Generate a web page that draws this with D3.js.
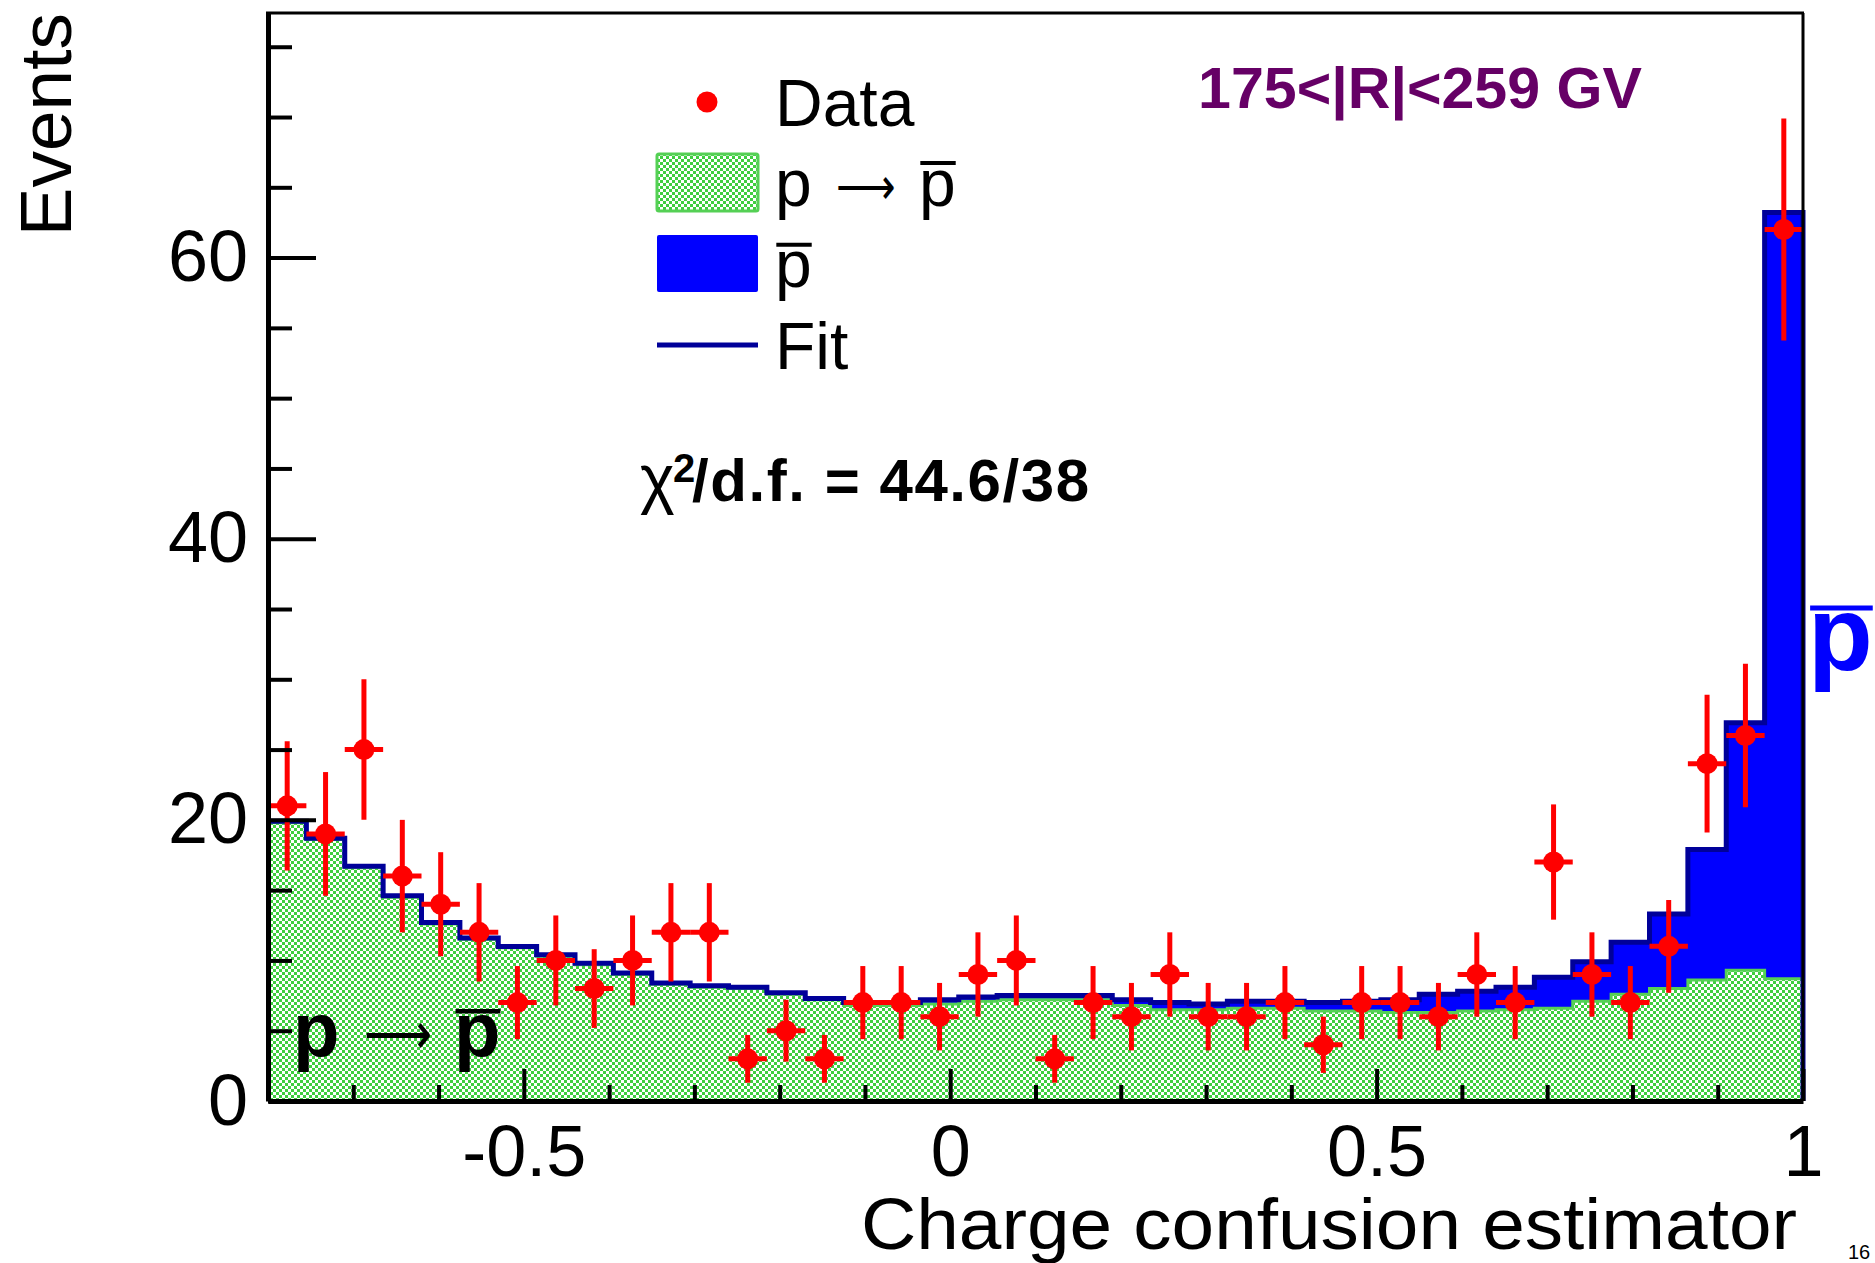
<!DOCTYPE html>
<html>
<head>
<meta charset="utf-8">
<script src="https://d3js.org/d3.v7.min.js"></script>
<style>
body { margin: 0; background: #fff; }
svg text { font-family: "Liberation Sans", Arial, Helvetica, sans-serif; }
</style>
</head>
<body>
<div id="chart"></div>
<script>
var width = 1875;
var height = 1263;

// 40 bins of the charge confusion estimator, from -0.8 to 1
var xMin = -0.8;
var xMax = 1;
var nBins = 40;

// data: events per bin and their error bars
var dataCounts = [21, 19, 25, 16, 14, 12, 7, 10, 8, 10, 12, 12, 3, 5, 3, 7, 7, 6, 9, 10,
                  3, 7, 6, 9, 6, 6, 7, 4, 7, 7, 6, 9, 7, 17, 9, 7, 11, 24, 26, 62];
var dataErrors = [4.6, 4.4, 5.0, 4.0, 3.7, 3.5, 2.6, 3.2, 2.8, 3.2, 3.5, 3.5, 1.7, 2.2, 1.7, 2.6, 2.6, 2.4, 3.0, 3.2,
                  1.7, 2.6, 2.4, 3.0, 2.4, 2.4, 2.6, 2.0, 2.6, 2.6, 2.4, 3.0, 2.6, 4.1, 3.0, 2.6, 3.3, 4.9, 5.1, 7.9];

// p -> pbar template (green)
var bkgValues = [19.8, 18.6, 16.6, 14.5, 12.6, 11.5, 10.9, 10.3, 9.7, 9.0, 8.3, 8.1, 8.0, 7.6, 7.2, 6.8, 6.8, 6.9, 7.1, 7.2,
                 7.2, 7.2, 6.8, 6.5, 6.5, 6.6, 6.6, 6.4, 6.4, 6.3, 6.3, 6.4, 6.5, 6.6, 7.1, 7.6, 8.0, 8.6, 9.3, 8.7];

// total fit (pbar + p -> pbar), the blue part sits between bkg and fit
var fitValues = [19.9, 18.7, 16.7, 14.6, 12.7, 11.6, 11.0, 10.4, 9.8, 9.1, 8.4, 8.2, 8.1, 7.7, 7.3, 7.0, 7.0, 7.2, 7.4, 7.5,
                 7.5, 7.5, 7.2, 7.0, 6.9, 7.1, 7.1, 7.0, 7.1, 7.2, 7.6, 7.8, 8.1, 8.8, 9.9, 11.3, 13.3, 17.9, 26.9, 63.2];

var xMajorTicks = [-0.5, 0, 0.5, 1];
var xMinorTicks = [-0.7, -0.6, -0.4, -0.3, -0.2, -0.1, 0.1, 0.2, 0.3, 0.4, 0.6, 0.7, 0.8, 0.9];
var yMajorTicks = [0, 20, 40, 60];
var yMinorTicks = [5, 10, 15, 25, 30, 35, 45, 50, 55, 65, 70, 75];

var green = '#3fce3f';
var greenLine = '#55d055';
var navy = '#000099';

var svg = d3.select('#chart').append('svg')
    .attr('width', width)
    .attr('height', height);

var x = d3.scaleLinear().domain([xMin, xMax]).range([268, 1803]);
var y = d3.scaleLinear().domain([0, 77.4]).range([1101, 13]);

// checker pattern like the ROOT fill style
var defs = svg.append('defs');
var pat = defs.append('pattern')
    .attr('id', 'checker')
    .attr('patternUnits', 'userSpaceOnUse')
    .attr('width', 6).attr('height', 6);
pat.append('rect').attr('width', 6).attr('height', 6).attr('fill', '#fff');
pat.append('rect').attr('width', 3).attr('height', 3).attr('fill', green);
pat.append('rect').attr('x', 3).attr('y', 3).attr('width', 3).attr('height', 3).attr('fill', green);

var binW = (xMax - xMin) / nBins;
var bins = dataCounts.map(function(d, i) {
    return {
        lo: xMin + i * binW,
        hi: xMin + (i + 1) * binW,
        n: d,
        err: dataErrors[i],
        bkg: bkgValues[i],
        fit: fitValues[i]
    };
});

// step points (two per bin)
var steps = [];
bins.forEach(function(b) {
    steps.push({x: b.lo, bkg: b.bkg, fit: b.fit});
    steps.push({x: b.hi, bkg: b.bkg, fit: b.fit});
});

var plot = svg.append('g');

// blue pbar part
plot.append('path')
    .datum(steps)
    .attr('fill', '#0000ff')
    .attr('d', d3.area()
        .x(function(d) { return x(d.x); })
        .y0(function(d) { return y(d.bkg); })
        .y1(function(d) { return y(d.fit); }));

// green p -> pbar part
plot.append('path')
    .datum(steps)
    .attr('fill', 'url(#checker)')
    .attr('d', d3.area()
        .x(function(d) { return x(d.x); })
        .y0(y(0))
        .y1(function(d) { return y(d.bkg); }));

plot.append('path')
    .datum(steps)
    .attr('fill', 'none')
    .attr('stroke', greenLine)
    .attr('stroke-width', 3)
    .attr('d', d3.line()
        .x(function(d) { return x(d.x); })
        .y(function(d) { return y(d.bkg); }));

// fit line, dropping to zero at the right edge
var fitSteps = steps.concat([{x: xMax, fit: 0}]);
plot.append('path')
    .datum(fitSteps)
    .attr('fill', 'none')
    .attr('stroke', navy)
    .attr('stroke-width', 5)
    .attr('d', d3.line()
        .x(function(d) { return x(d.x); })
        .y(function(d) { return y(d.fit); }));

// data points with error bars
var pts = plot.selectAll('.pt')
    .data(bins)
    .enter().append('g').classed('pt', true);

pts.append('line')
    .attr('x1', function(d) { return x((d.lo + d.hi) / 2); })
    .attr('x2', function(d) { return x((d.lo + d.hi) / 2); })
    .attr('y1', function(d) { return y(d.n - d.err); })
    .attr('y2', function(d) { return y(d.n + d.err); })
    .attr('stroke', 'red')
    .attr('stroke-width', 5);

pts.append('line')
    .attr('x1', function(d) { return x(d.lo); })
    .attr('x2', function(d) { return x(d.hi); })
    .attr('y1', function(d) { return y(d.n); })
    .attr('y2', function(d) { return y(d.n); })
    .attr('stroke', 'red')
    .attr('stroke-width', 5);

pts.append('circle')
    .attr('cx', function(d) { return x((d.lo + d.hi) / 2); })
    .attr('cy', function(d) { return y(d.n); })
    .attr('r', 10.5)
    .attr('fill', 'red');

// axes, ticks pointing inside
function styleAxis(g, w) {
    g.select('.domain').attr('stroke', '#000').attr('stroke-width', w);
    g.selectAll('.tick line').attr('stroke', '#000').attr('stroke-width', 4);
    g.selectAll('.tick text')
        .attr('fill', '#000')
        .attr('font-size', 72)
        .attr('font-family', '"Liberation Sans", Arial, sans-serif');
    g.attr('font-family', null).attr('font-size', null);
}

var xAxis = svg.append('g')
    .attr('transform', 'translate(0,' + y(0) + ')')
    .call(d3.axisBottom(x).tickValues(xMajorTicks).tickSize(-32).tickSizeOuter(0)
        .tickPadding(24).tickFormat(function(d) { return String(d); }));
styleAxis(xAxis, 5);

var xMinor = svg.append('g')
    .attr('transform', 'translate(0,' + y(0) + ')')
    .call(d3.axisBottom(x).tickValues(xMinorTicks).tickSize(-16).tickFormat(''));
xMinor.select('.domain').remove();
styleAxis(xMinor, 0);

var yAxis = svg.append('g')
    .attr('transform', 'translate(' + x(xMin) + ',0)')
    .call(d3.axisLeft(y).tickValues(yMajorTicks).tickSize(-48).tickSizeOuter(0)
        .tickPadding(20).tickFormat(function(d) { return String(d); }));
styleAxis(yAxis, 5);

var yMinor = svg.append('g')
    .attr('transform', 'translate(' + x(xMin) + ',0)')
    .call(d3.axisLeft(y).tickValues(yMinorTicks).tickSize(-24).tickFormat(''));
yMinor.select('.domain').remove();
styleAxis(yMinor, 0);

// top and right frame
svg.append('line')
    .attr('x1', x(xMin) - 2).attr('x2', x(xMax) + 1)
    .attr('y1', y.range()[1]).attr('y2', y.range()[1])
    .attr('stroke', '#000').attr('stroke-width', 3);
svg.append('line')
    .attr('x1', x(xMax)).attr('x2', x(xMax))
    .attr('y1', y.range()[1]).attr('y2', y(0))
    .attr('stroke', '#000').attr('stroke-width', 3);

// axis titles
svg.append('text')
    .attr('transform', 'translate(71,13) rotate(-90)')
    .attr('text-anchor', 'end')
    .attr('font-size', 73)
    .text('Events');

svg.append('text')
    .attr('x', 1797).attr('y', 1249)
    .attr('text-anchor', 'end')
    .attr('font-size', 72)
    .attr('textLength', 936)
    .attr('lengthAdjust', 'spacingAndGlyphs')
    .text('Charge confusion estimator');

// p with a bar over it
function pbar(g, px, py, size, weight, color, barOff, barW) {
    var t = g.append('text')
        .attr('x', px).attr('y', py)
        .attr('font-size', size)
        .attr('font-weight', weight)
        .attr('fill', color)
        .text('p');
    var w = t.node().getComputedTextLength();
    g.append('line')
        .attr('x1', px + size * 0.02).attr('x2', px + w)
        .attr('y1', py - barOff * size).attr('y2', py - barOff * size)
        .attr('stroke', color).attr('stroke-width', barW);
}

// long thin arrow, stretched to the width seen in the plot
function arrow(g, ax, ay, size, len) {
    g.append('text')
        .attr('x', ax).attr('y', ay)
        .attr('font-size', size)
        .attr('font-family', '"DejaVu Sans", sans-serif')
        .attr('textLength', len)
        .attr('lengthAdjust', 'spacingAndGlyphs')
        .text('\u27f6');
}

// legend
var leg = svg.append('g');
leg.append('circle').attr('cx', 707).attr('cy', 102).attr('r', 10.5).attr('fill', 'red');
leg.append('text').attr('x', 775).attr('y', 126).attr('font-size', 66).text('Data');

leg.append('rect')
    .attr('x', 657).attr('y', 154).attr('width', 101).attr('height', 57).attr('rx', 2)
    .attr('fill', 'url(#checker)').attr('stroke', greenLine).attr('stroke-width', 3);
leg.append('text').attr('x', 775).attr('y', 206).attr('font-size', 66).text('p');
arrow(leg, 836, 204, 52, 60);
pbar(leg, 919, 206, 66, 'normal', '#000', 0.65, 4);

leg.append('rect')
    .attr('x', 657).attr('y', 235).attr('width', 101).attr('height', 57).attr('rx', 2)
    .attr('fill', '#0000ff');
pbar(leg, 775, 287, 66, 'normal', '#000', 0.64, 4);

leg.append('line')
    .attr('x1', 657).attr('x2', 758).attr('y1', 345).attr('y2', 345)
    .attr('stroke', navy).attr('stroke-width', 5);
leg.append('text').attr('x', 775).attr('y', 369).attr('font-size', 66).text('Fit');

// chi2 text
var chi = svg.append('g');
chi.append('text')
    .attr('x', 640).attr('y', 501)
    .attr('font-size', 66)
    .attr('font-family', '"Liberation Serif", serif')
    .text('\u03c7');
chi.append('text')
    .attr('x', 673).attr('y', 482)
    .attr('font-size', 40).attr('font-weight', 'bold')
    .text('2');
chi.append('text')
    .attr('x', 692).attr('y', 501)
    .attr('font-size', 60).attr('font-weight', 'bold')
    .attr('textLength', 397)
    .attr('lengthAdjust', 'spacing')
    .text('/d.f. = 44.6/38');

// rigidity range
svg.append('text')
    .attr('x', 1198).attr('y', 108)
    .attr('font-size', 58)
    .attr('font-weight', 'bold')
    .attr('font-family', '"Open Sans", sans-serif')
    .attr('fill', '#660066')
    .attr('textLength', 444)
    .attr('lengthAdjust', 'spacingAndGlyphs')
    .text('175<|R|<259 GV');

// labels inside the plot
var lab = svg.append('g');
lab.append('text')
    .attr('x', 293).attr('y', 1056)
    .attr('font-size', 76).attr('font-weight', 'bold')
    .text('p');
arrow(lab, 364, 1054, 58, 68);
pbar(lab, 454, 1056, 76, 'bold', '#000', 0.59, 4.5);

pbar(svg, 1808, 670, 106, 'bold', '#0000ff', 0.585, 5);

// page number peeking in at the corner
svg.append('text')
    .attr('x', 1848).attr('y', 1259)
    .attr('font-size', 20)
    .text('16');
</script>
</body>
</html>
